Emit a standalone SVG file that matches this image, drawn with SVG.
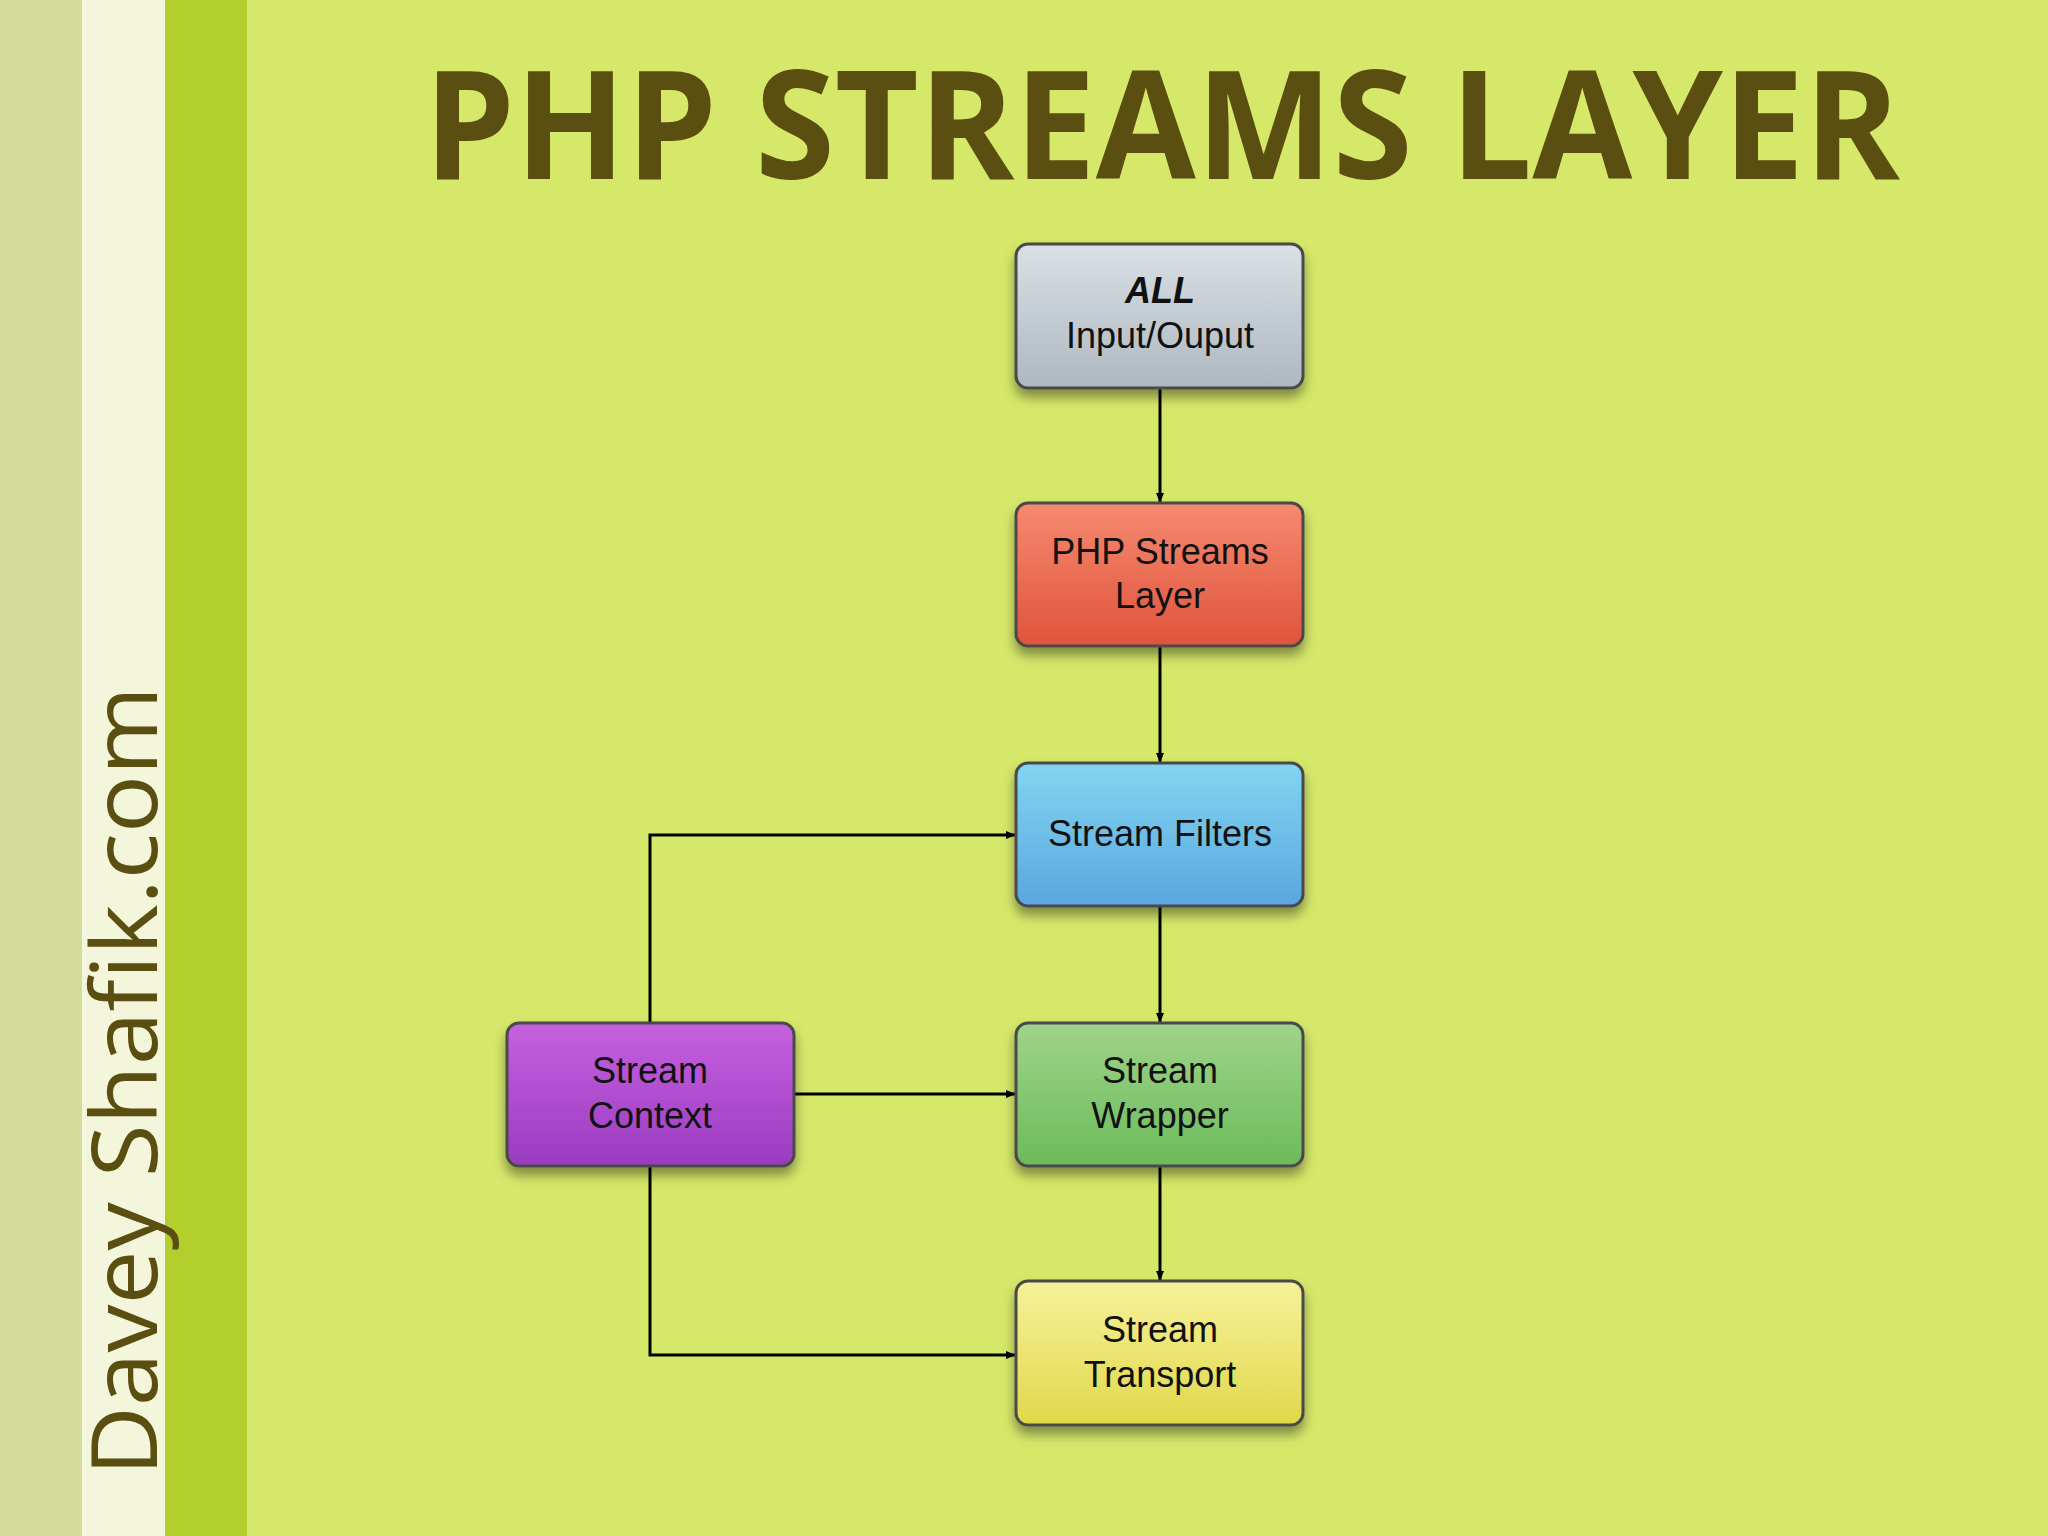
<svg xmlns="http://www.w3.org/2000/svg" width="2048" height="1536" viewBox="0 0 2048 1536">
<defs>
<style>
.n{stroke:#4a4a4a;stroke-width:3}
.t{font-family:"Liberation Sans",Arial,sans-serif;font-size:36px;fill:#111;text-anchor:middle}
.c{stroke:#000;stroke-width:3;fill:none;marker-end:url(#a)}
</style>
<marker id="a" markerWidth="10" markerHeight="8" refX="10" refY="4" orient="auto" markerUnits="userSpaceOnUse" viewBox="0 0 10 8"><path d="M0,0L10,4L0,8z" fill="#000"/></marker>
<filter id="s" x="-10%" y="-10%" width="130%" height="140%"><feDropShadow dx="0" dy="8" stdDeviation="6" flood-opacity="0.4"/></filter>
<linearGradient id="g1" x1="0" y1="0" x2="0" y2="1"><stop offset="0" stop-color="#d9e0e6"/><stop offset="1" stop-color="#aeb8bf"/></linearGradient>
<linearGradient id="g2" x1="0" y1="0" x2="0" y2="1"><stop offset="0" stop-color="#f58a70"/><stop offset="1" stop-color="#e0533c"/></linearGradient>
<linearGradient id="g3" x1="0" y1="0" x2="0" y2="1"><stop offset="0" stop-color="#82d6f0"/><stop offset="1" stop-color="#5aa6e0"/></linearGradient>
<linearGradient id="g4" x1="0" y1="0" x2="0" y2="1"><stop offset="0" stop-color="#9fd48a"/><stop offset="1" stop-color="#6cbb5a"/></linearGradient>
<linearGradient id="g5" x1="0" y1="0" x2="0" y2="1"><stop offset="0" stop-color="#f7f19a"/><stop offset="1" stop-color="#e0d84a"/></linearGradient>
<linearGradient id="g6" x1="0" y1="0" x2="0" y2="1"><stop offset="0" stop-color="#c660e0"/><stop offset="1" stop-color="#9a3cc0"/></linearGradient>
</defs>
<rect width="2048" height="1536" fill="#d6e86a"/>
<rect x="0" width="82" height="1536" fill="#d4dc9c"/>
<rect x="82" width="83" height="1536" fill="#f4f6dc"/>
<rect x="165" width="82" height="1536" fill="#b3cf2e"/>
<text x="1162" y="179" font-family="'Open Sans','DejaVu Sans',sans-serif" font-weight="bold" font-size="150" fill="#5a4e10" text-anchor="middle" textLength="1476" lengthAdjust="spacingAndGlyphs">PHP STREAMS LAYER</text>
<text transform="translate(157,1476) rotate(-90)" font-family="'Open Sans','DejaVu Sans',sans-serif" font-size="92" fill="#5a4e10" textLength="790" lengthAdjust="spacingAndGlyphs">Davey Shafik.com</text>
<g id="connectors">
<path class="c" d="M1160,388V503"/>
<path class="c" d="M1160,646V763"/>
<path class="c" d="M1160,906V1023"/>
<path class="c" d="M1160,1166V1281"/>
<path class="c" d="M650,1023V835H1016"/>
<path class="c" d="M794,1094H1016"/>
<path class="c" d="M650,1166V1355H1016"/>
</g>
<g id="all"><rect class="n" x="1016" y="244" width="287" height="144" rx="12" fill="url(#g1)" filter="url(#s)"/><text class="t" x="1160" y="303" font-weight="bold" font-style="italic">ALL</text><text class="t" x="1160" y="348">Input/Ouput</text></g>
<g id="php"><rect class="n" x="1016" y="503" width="287" height="143" rx="12" fill="url(#g2)" filter="url(#s)"/><text class="t" x="1160" y="564">PHP Streams</text><text class="t" x="1160" y="608">Layer</text></g>
<g id="filters"><rect class="n" x="1016" y="763" width="287" height="143" rx="12" fill="url(#g3)" filter="url(#s)"/><text class="t" x="1160" y="846">Stream Filters</text></g>
<g id="wrapper"><rect class="n" x="1016" y="1023" width="287" height="143" rx="12" fill="url(#g4)" filter="url(#s)"/><text class="t" x="1160" y="1083">Stream</text><text class="t" x="1160" y="1128">Wrapper</text></g>
<g id="transport"><rect class="n" x="1016" y="1281" width="287" height="144" rx="12" fill="url(#g5)" filter="url(#s)"/><text class="t" x="1160" y="1342">Stream</text><text class="t" x="1160" y="1387">Transport</text></g>
<g id="context"><rect class="n" x="507" y="1023" width="287" height="143" rx="12" fill="url(#g6)" filter="url(#s)"/><text class="t" x="650" y="1083">Stream</text><text class="t" x="650" y="1128">Context</text></g>
</svg>
